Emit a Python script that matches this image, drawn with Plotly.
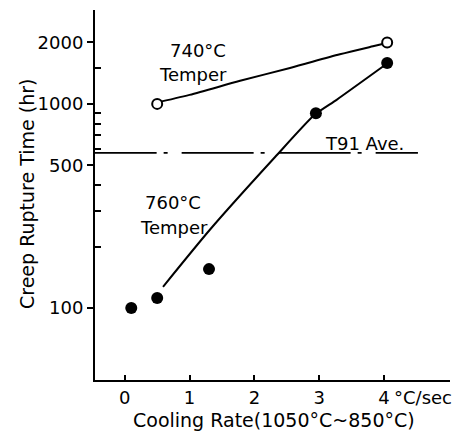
import plotly.graph_objects as go

# 740 C temper (open circles) and its fitted curve
t740_x = [0.5, 4.05]
t740_y = [1000, 2000]
t740_curve_x = [0.46, 1.0, 1.78, 2.55, 3.32, 3.83, 4.06]
t740_curve_y = [1010, 1107, 1297, 1500, 1750, 1915, 1991]

# 760 C temper (filled dots) and its fitted curve
t760_x = [0.1, 0.5, 1.3, 2.95, 4.05]
t760_y = [100, 112, 155, 900, 1585]
t760_curve_x = [0.59, 1.31, 2.32, 2.93, 3.27, 4.06]
t760_curve_y = [127, 241, 549, 884, 1047, 1585]

# T91 average
t91_x = [-0.62, 4.525]
t91_y = [575, 575]

x_ticks = [0, 1, 2, 3, 4]
y_ticks = [100, 500, 1000, 2000]
y_minor = [200, 300, 400, 600, 700, 800, 900, 1500]

FONT = "DejaVu Sans"
OFF = 8  # page body margin
W, H = 469 - OFF, 432 - OFF
L, R, T, B = 95, 450, 10, 380  # plot area in screenshot pixels


def px(xp):
    return (xp - L) / (R - L)


def py(yp):
    return (B - yp) / (B - T)


fig = go.Figure()

fig.add_trace(go.Scatter(x=t91_x, y=t91_y, mode="lines",
                         line=dict(color="black", width=1.6, dash="72px,7px,4px,14px")))
fig.add_trace(go.Scatter(x=t740_curve_x, y=t740_curve_y, mode="lines",
                         line=dict(color="black", width=2, shape="spline", smoothing=0.8)))
fig.add_trace(go.Scatter(x=t760_curve_x, y=t760_curve_y, mode="lines",
                         line=dict(color="black", width=2, shape="spline", smoothing=0.6)))
fig.add_trace(go.Scatter(x=t740_x, y=t740_y, mode="markers",
                         marker=dict(symbol="circle", size=10, color="white",
                                     line=dict(color="black", width=2))))
fig.add_trace(go.Scatter(x=t760_x, y=t760_y, mode="markers",
                         marker=dict(symbol="circle", size=12, color="black")))

ann = dict(showarrow=False, xref="paper", yref="paper", xanchor="center", yanchor="middle",
           font=dict(family=FONT, size=18, color="black"))
fig.add_annotation(x=px(198), y=py(50), text="740°C", **ann)
fig.add_annotation(x=px(193), y=py(74), text="Temper", **ann)
fig.add_annotation(x=px(364), y=py(143), text="T91 Ave.", **ann)
fig.add_annotation(x=px(173), y=py(202), text="760°C", **ann)
fig.add_annotation(x=px(174), y=py(227), text="Temper", **ann)
fig.add_annotation(x=px(423), y=py(397), text="°C/sec", **ann)
ann19 = dict(ann, font=dict(family=FONT, size=19, color="black"))
fig.add_annotation(x=px(274), y=py(420), text="Cooling Rate(1050°C~850°C)", **ann19)
fig.add_annotation(x=px(27), y=py(194), text="Creep Rupture Time (hr)", textangle=-90, **ann19)

fig.update_layout(
    width=W, height=H,
    margin=dict(l=L - OFF, r=W - (R - OFF), t=T - OFF, b=H - (B - OFF)),
    paper_bgcolor="white", plot_bgcolor="white",
    showlegend=False,
    font=dict(family=FONT, size=18, color="black"),
)
fig.update_xaxes(
    range=[-0.46, 5.02], tickvals=x_ticks, ticktext=[str(v) for v in x_ticks],
    showgrid=False, zeroline=False, showline=True, linecolor="black", linewidth=2,
    ticks="inside", ticklen=5, tickwidth=1.5, tickcolor="black",
    automargin=False, tickfont=dict(family=FONT, size=18),
)
fig.update_yaxes(
    type="log", range=[1.647, 3.46], tickvals=y_ticks, ticktext=[str(v) for v in y_ticks],
    showgrid=False, zeroline=False, showline=True, linecolor="black", linewidth=2,
    ticks="outside", ticklen=6, tickwidth=1.5, tickcolor="black",
    minor=dict(tickvals=y_minor, ticks="inside", ticklen=6, tickwidth=1.5, tickcolor="black"),
    automargin=False, tickfont=dict(family=FONT, size=18),
)

fig.write_html("out.html")
